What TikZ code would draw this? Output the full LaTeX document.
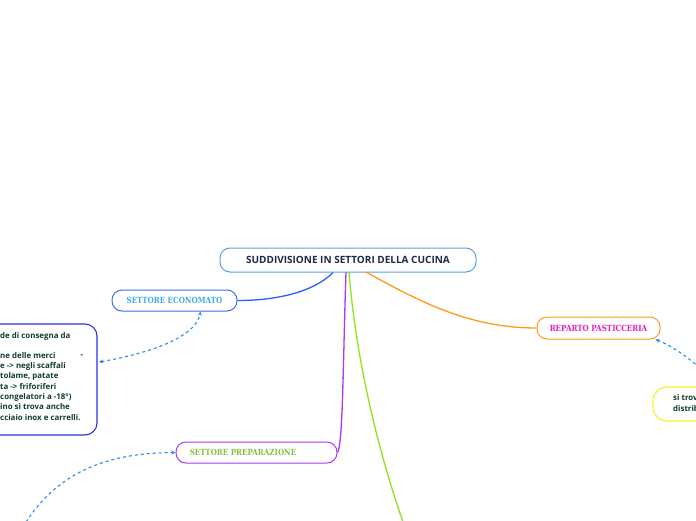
\documentclass[tikz,border=0pt]{standalone}
\usepackage{fontspec}
\setmainfont{Open Sans}
\newfontfamily\slab[FakeStretch=0.84,BoldFont={DejaVu Serif Bold},BoldFeatures={FakeStretch=0.84}]{DejaVu Serif}
\usetikzlibrary{arrows.meta}
\definecolor{titletxt}{HTML}{1B2A4A}
\definecolor{mainborder}{HTML}{5AA0E0}
\definecolor{econborder}{HTML}{3A6FF0}
\definecolor{econtxt}{HTML}{3FAAE8}
\definecolor{blueline}{HTML}{2F5DF5}
\definecolor{purpleline}{HTML}{A83AF5}
\definecolor{greenline}{HTML}{8EE51A}
\definecolor{orangeline}{HTML}{FF9A1A}
\definecolor{preptxt}{HTML}{86C043}
\definecolor{pastxt}{HTML}{E020B8}
\definecolor{leftborder}{HTML}{3030E0}
\definecolor{bodytxt}{HTML}{0F3D2A}
\definecolor{dashblue}{HTML}{2A8BE8}
\definecolor{yellowb}{HTML}{F5F51A}
\tikzset{
  topic/.style={draw, rounded corners=10pt, line width=1pt, minimum height=22pt, inner sep=0pt},
  slabtxt/.style={font=\slab\bfseries\fontsize{8.5}{9}\selectfont},
  link/.style={dashblue, line width=1.1pt, dash pattern=on 3pt off 3pt, -{Stealth[length=4pt,width=4pt]}},
  branch/.style={line width=1.3pt}
}
\begin{document}
\begin{tikzpicture}[x=1pt,y=-1pt]
\useasboundingbox (0,0) rectangle (696,520);
\clip (0,0) rectangle (696,520);
\fill[white] (0,0) rectangle (696,520);
% main
\node[topic, draw=mainborder, minimum width=256pt, minimum height=24pt, font=\bfseries\fontsize{10}{11}\selectfont, text=titletxt] (main) at (348,260) {SUDDIVISIONE IN SETTORI DELLA CUCINA};
% economato
\node[topic, draw=econborder, minimum width=125pt, minimum height=21pt, slabtxt, text=econtxt] (econ) at (174.5,300.5) {SETTORE ECONOMATO};
% preparazione
\node[topic, draw=purpleline, minimum width=161pt, minimum height=21pt, slabtxt, text=preptxt] (prep) at (256.5,452.5) {\hspace*{-27pt}SETTORE PREPARAZIONE};
% pasticceria
\node[topic, draw=orangeline, minimum width=123pt, minimum height=22pt, slabtxt, text=pastxt] (past) at (598.5,328) {REPARTO PASTICCERIA};
% left box
\draw[leftborder, line width=1.1pt, rounded corners=12pt] (-60,324) rectangle (97,435);
\coordinate (leftin) at (97,362);
\node[anchor=north west, align=left, inner sep=0pt, text=bodytxt, font=\bfseries\fontsize{7.9}{10.3}\selectfont] (lefttxt) at (0,332.5) {de di consegna da\\[0pt]\strut\\[-1pt]ne delle merci\\e -> negli scaffali\\tolame, patate\\ta -> friforiferi\\congelatori a -18°)\\ino si trova anche\\cciaio inox e carrelli.};
\node[text=bodytxt, font=\bfseries\fontsize{7.9}{8}\selectfont, inner sep=0pt] (dash) at (82,356) {-};
% yellow box
\draw[yellowb, line width=1.1pt, rounded corners=14pt] (653,387) rectangle (760,421);
\node[anchor=west, align=left, inner sep=0pt, text=bodytxt, font=\bfseries\fontsize{7.9}{10.8}\selectfont] (ytxt) at (673,403) {si trov\\distrib};
% branches
\draw[branch, blueline] (main.south) ++(-15,0) coordinate (m1) .. controls (320,286) and (290,300.5) .. (econ.east);
\draw[branch, purpleline] (346,272) .. controls (343,360) and (343,445) .. (prep.east);
\draw[branch, greenline] (349,272) .. controls (356,360) and (378,450) .. (403,522);
\draw[branch, orangeline] (366,272) .. controls (420,302) and (470,328) .. (past.west);
% dashed links
\draw[link, {Stealth[length=4pt,width=4pt]}-{Stealth[length=4pt,width=4pt]}] (leftin) ++(2,0) .. controls (140,355) and (195,340) .. (200.5,311.5);
\coordinate (pastout) at (700,368);
\draw[link] (pastout) .. controls (685,355) and (670,345) .. (655.5,339.5);
\coordinate (prepout) at (26,522);
\draw[link] (prepout) .. controls (60,470) and (110,453) .. (prep.west);
\end{tikzpicture}
\end{document}
